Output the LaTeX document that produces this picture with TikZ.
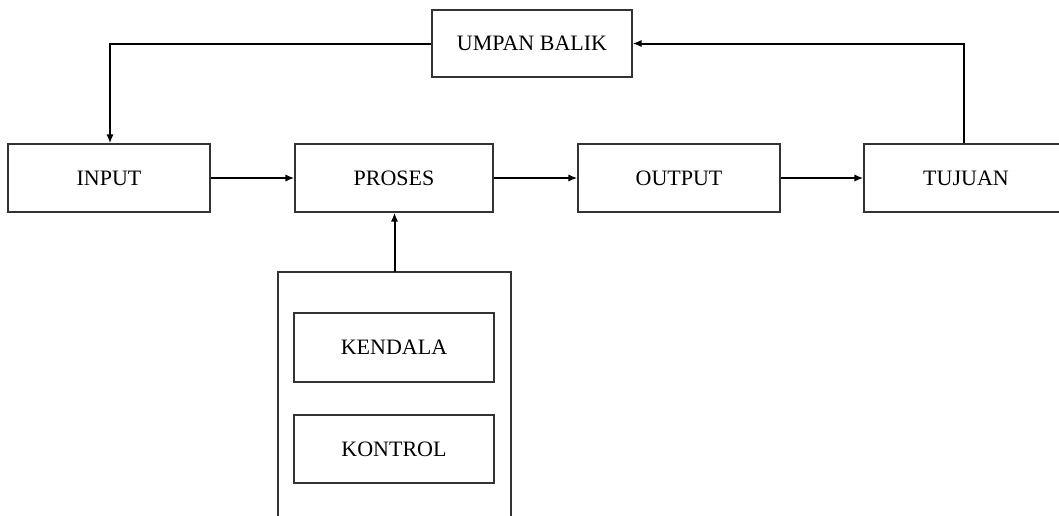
\documentclass[tikz,border=0pt]{standalone}
\usepackage{fontspec}
\setmainfont{Liberation Serif}
\usetikzlibrary{arrows.meta}
\begin{document}
\begin{tikzpicture}[x=0.5pt,y=-0.5pt,
  box/.style={draw=black!80,line width=0.6pt,rectangle,inner sep=0pt,
    font=\fontsize{11}{13}\selectfont,text=black},
  conn/.style={line width=1pt,-{Latex[length=4.5pt,width=3.6pt]}}]
\useasboundingbox (0,0) rectangle (1059,515);
\node[box,minimum width=100pt,minimum height=33.5pt] (umpan) at (532,43.5) {UMPAN BALIK};
\node[box,minimum width=101pt,minimum height=34pt] (input) at (109,178) {INPUT};
\node[box,minimum width=99pt,minimum height=34pt] (proses) at (394,178) {PROSES};
\node[box,minimum width=101pt,minimum height=34pt] (output) at (679,178) {OUTPUT};
\node[box,minimum width=102pt,minimum height=34pt] (tujuan) at (966,178) {TUJUAN};
\node[box,minimum width=100pt,minimum height=34.5pt] (kendala) at (394,347.5) {KENDALA};
\node[box,minimum width=100pt,minimum height=34pt] (kontrol) at (394,449) {KONTROL};
\coordinate (gtop) at (394.5,272);
\draw[draw=black!80,line width=0.6pt] (278,520) -- (278,272) -- (511,272) -- (511,520);
\draw[conn] (input) -- (proses);
\draw[conn] (proses) -- (output);
\draw[conn] (output) -- (tujuan);
\draw[conn] (gtop) -- (gtop |- proses.south);
\draw[conn] (tujuan.north -| 964,0) |- (umpan.east);
\draw[conn] (umpan.west) -| (input.north -| 110,0);
\end{tikzpicture}
\end{document}
